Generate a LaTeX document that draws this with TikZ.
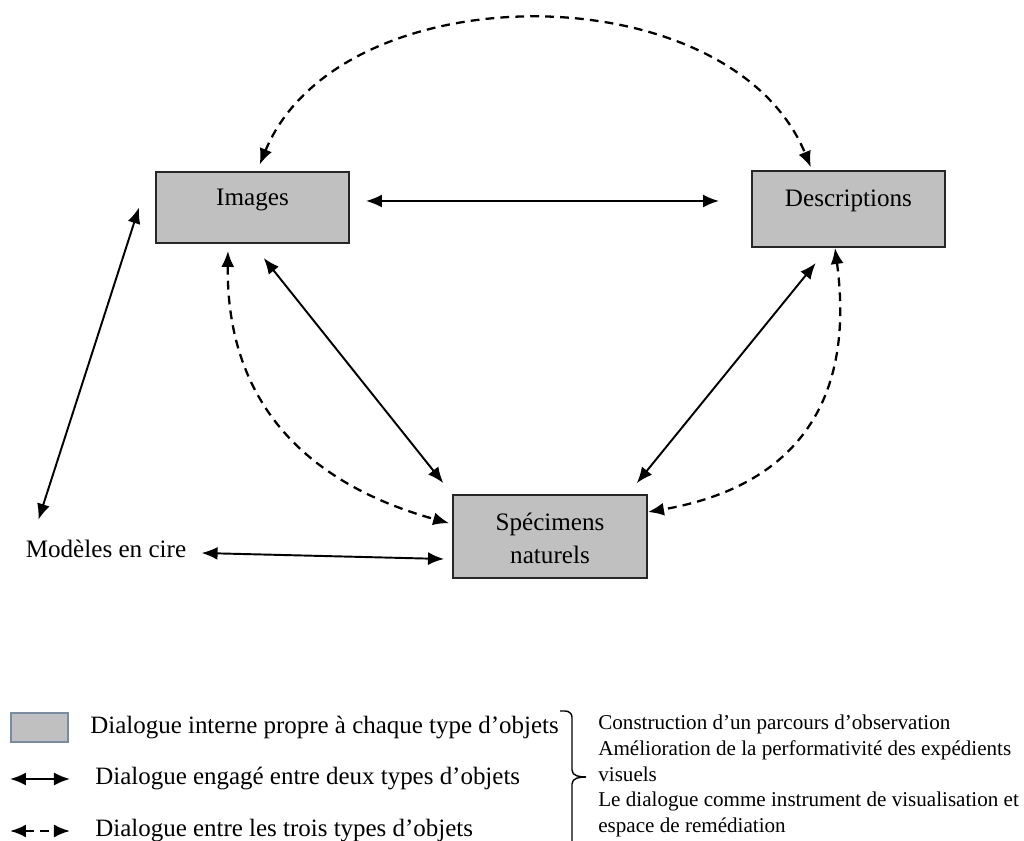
\documentclass[tikz,border=0pt]{standalone}
\usepackage{fontspec}
\setmainfont{Liberation Serif}
\usetikzlibrary{arrows.meta,calc,positioning}

\definecolor{boxgrey}{RGB}{192,192,192}
\definecolor{legborder}{RGB}{120,140,165}

\tikzset{
  objet/.style={draw=black!85,line width=1.1pt,fill=boxgrey,minimum width=3.86cm,inner sep=0pt},
  lien/.style={line width=1.1pt,<->},
  lientrois/.style={line width=1.3pt,<->,dash pattern=on 5pt off 3.5pt},
  etiq/.style={font=\fontsize{14.3}{18.7}\selectfont,inner sep=0pt,align=center},
  legende/.style={font=\fontsize{14.2}{17}\selectfont,anchor=west,inner sep=0pt},
  note/.style={font=\fontsize{12}{14.6}\selectfont,anchor=north west,align=left,inner sep=0pt}
}

\begin{document}
\begin{tikzpicture}[>={Latex[length=3.2mm,width=2.6mm]}]
  \useasboundingbox (0,0) rectangle (20.48,16.82);
  \clip (0,0) rectangle (20.48,16.82);

  % les trois types d'objets
  \node[objet,minimum height=1.42cm] (img) at (5.05,12.67) {};
  \node[objet,minimum height=1.52cm] (desc) at (16.97,12.64) {};
  \node[objet,minimum width=3.88cm,minimum height=1.66cm] (spec) at (11.0,6.09) {};
  \node[etiq] (imgtxt) at ([yshift=-0.58cm]img.north) {Images};
  \node[etiq] (desctxt) at ([yshift=-0.62cm]desc.north) {Descriptions};
  \node[etiq] (spectxt) at ([yshift=-0.88cm]spec.north) {Spécimens\\naturels};
  \node[etiq] (mod) at (2.12,5.84) {Modèles en cire};

  % dialogue entre deux types
  \draw[lien,shorten <=0.32cm,shorten >=0.64cm] ([yshift=0.13cm]img.east) -- ([yshift=0.16cm]desc.west);
  \draw[lien,shorten <=0.36cm,shorten >=0.28cm] (img.south) -- (spec.north west);
  \draw[lien,shorten <=0.39cm,shorten >=0.28cm] ([xshift=-0.41cm]desc.south) -- ([xshift=-0.4cm]spec.north east);
  \draw[lien] ([xshift=0.26cm,yshift=0.4cm]mod.north west) -- ([xshift=-0.32cm]img.west);
  \draw[lien] ([xshift=0.3cm,yshift=-0.08cm]mod.east) -- ([xshift=-0.16cm,yshift=-0.45cm]spec.west);

  % dialogue entre les trois types
  \draw[lientrois,shorten <=0.14cm,shorten >=0.06cm] ([xshift=0.09cm]img.north)
    .. controls +(1.66,4.0) and +(-1.64,3.98) .. ([xshift=-0.73cm]desc.north);
  \draw[lientrois,shorten <=0.14cm,shorten >=0.06cm] ([xshift=-0.49cm]img.south)
    .. controls +(-0.04,-3.54) and +(-2.46,0.68) .. ([yshift=0.25cm]spec.west);
  \draw[lientrois] ([xshift=-0.27cm]desc.south)
    .. controls +(0.46,-3.46) and +(2.56,0.44) .. ([yshift=0.49cm]spec.east);

  % legende
  \draw[fill=boxgrey,draw=legborder,line width=0.8pt] (0.22,1.98) rectangle (1.36,2.56);
  \node[legende] (leg1) at (1.80,2.26) {Dialogue interne propre à chaque type d’objets};
  \coordinate (l2a) at (0.20,1.24);
  \coordinate (l2b) at (1.40,1.24);
  \draw[lien] (l2a) -- (l2b);
  \node[legende] (leg2) at (1.90,1.24) {Dialogue engagé entre deux types d’objets};
  \coordinate (l3a) at (0.20,0.20);
  \coordinate (l3b) at (1.40,0.20);
  \draw[lientrois] (l3a) -- (l3b);
  \node[legende] (leg3) at (1.90,0.20) {Dialogue entre les trois types d’objets};

  % accolade et commentaire
  \draw[line width=0.8pt] (11.2,2.6) -- (11.3,2.6) to[out=0,in=90] (11.44,2.48) -- (11.44,1.42)
    to[out=-90,in=180] (11.72,1.28);
  \draw[line width=0.8pt] (11.72,1.28) to[out=180,in=90] (11.44,1.14) -- (11.44,-0.2);
  \node[note] (com) at (11.96,2.52) {Construction d’un parcours d’observation\\
    Amélioration de la performativité des expédients\\visuels\\
    Le dialogue comme instrument de visualisation et\\espace de remédiation};
\end{tikzpicture}
\end{document}
